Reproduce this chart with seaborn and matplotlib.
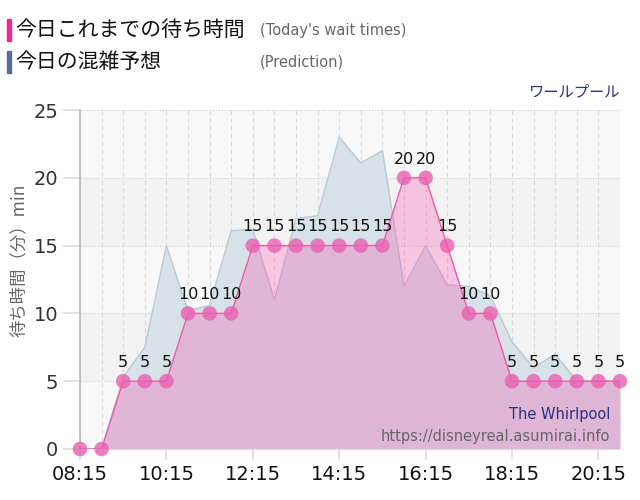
import numpy as np
import pandas as pd
import seaborn as sns
from matplotlib import pyplot as plt

times = ['08:15', '08:45', '09:15', '09:45', '10:15', '10:45', '11:15', '11:45',
         '12:15', '12:45', '13:15', '13:45', '14:15', '14:45', '15:15', '15:45',
         '16:15', '16:45', '17:15', '17:45', '18:15', '18:45', '19:15', '19:45',
         '20:15', '20:45']
actual = [0, 0, 5, 5, 5, 10, 10, 10, 15, 15, 15, 15, 15, 15, 15, 20,
          20, 15, 10, 10, 5, 5, 5, 5, 5, 5]
predicted = [0, 0, 5.3, 7.5, 15, 10.2, 10.6, 16.1, 16.2, 11, 17, 17.2, 23, 21.1,
             22, 12, 15, 12.1, 12, 11.3, 7.9, 6, 7, 5, 5, 5]
tick_labels = ['08:15', '10:15', '12:15', '14:15', '16:15', '18:15', '20:15']

df = pd.DataFrame({'time': times, 'actual': actual, 'predicted': predicted})
df['pos'] = np.arange(len(df))

sns.set_theme(style='white')
plt.rcParams['font.family'] = ['DejaVu Sans', 'Noto Sans CJK JP']
jp = ['Noto Sans CJK JP', 'DejaVu Sans']

fig = plt.figure(figsize=(6.4, 5), dpi=100)
ax = fig.add_axes([0.125, 0.102, 0.84375, 0.678])

# background bands
for i, lo in enumerate(range(0, 25, 5)):
    ax.axhspan(lo, lo + 5, color='#f8f8f8' if i % 2 == 0 else '#f2f2f2', zorder=0, lw=0)

# grid
for p in df['pos']:
    ax.axvline(p, color='#d9d9d9', lw=0.8, ls=(0, (4, 3)), zorder=1)
for y in range(5, 26, 5):
    ax.axhline(y, color='#cfcfcf', lw=0.8, ls=':', zorder=1)

# prediction area
ax.fill_between(df['pos'], df['predicted'], color='#d6e1e8', zorder=2, lw=0)
sns.lineplot(data=df, x='pos', y='predicted', ax=ax, color='#b9c8d3', lw=1, zorder=3)

# actual area
ax.fill_between(df['pos'], df['actual'], color='#fa54b1', alpha=0.3, zorder=4, lw=0)
sns.lineplot(data=df, x='pos', y='actual', ax=ax, color='#ee5aa8', lw=1, zorder=5)
sns.scatterplot(data=df, x='pos', y='actual', ax=ax, color='#e860b0', alpha=0.8,
                s=110, edgecolor='none', zorder=6, clip_on=False)

for p, v in zip(df['pos'], df['actual']):
    if v > 0:
        ax.annotate(str(v), (p, v), xytext=(0, 8), textcoords='offset points',
                    ha='center', va='bottom', fontsize=11.5, color='#111111', zorder=7)

ax.set_xlim(0, len(times) - 1)
ax.set_ylim(0, 25)
ax.set_yticks(range(0, 26, 5))
ax.set_xticks(range(0, len(times), 4))
ax.set_xticklabels(tick_labels)
ax.tick_params(axis='y', labelsize=14, labelcolor='#333333', length=12, color='#dddddd', left=True)
ax.tick_params(axis='x', labelsize=14, labelcolor='#111111', length=8, color='#dddddd', bottom=True)
ax.set_xlabel('')
ax.set_ylabel('待ち時間（分）min', fontsize=12.5, color='#666666', family=jp)
ax.yaxis.set_label_coords(-0.097, 0.557)
for s in ['top', 'right', 'bottom']:
    ax.spines[s].set_visible(False)
ax.spines['left'].set_color('#bbbbbb')

# header legend
fig.patches.append(plt.Rectangle((7 / 640, 1 - 41 / 500), 4 / 640, 22 / 500,
                                 transform=fig.transFigure, color='#f0288c'))
fig.patches.append(plt.Rectangle((7 / 640, 1 - 73 / 500), 4 / 640, 22 / 500,
                                 transform=fig.transFigure, color='#5b6b9c'))
fig.text(15 / 640, 1 - 30 / 500, '今日これまでの待ち時間', fontsize=15, family=jp,
         color='#111111', va='center')
fig.text(15 / 640, 1 - 62 / 500, '今日の混雑予想', fontsize=15, family=jp,
         color='#111111', va='center')
fig.text(260 / 640, 1 - 31 / 500, "(Today's wait times)", fontsize=10.5, color='#666666', va='center')
fig.text(260 / 640, 1 - 62 / 500, '(Prediction)', fontsize=10.5, color='#666666', va='center')
fig.text(620 / 640, 1 - 92 / 500, 'ワールプール', fontsize=11, family=jp,
         color='#2b2f7f', ha='right', va='center')
fig.text(610 / 640, 1 - 415 / 500, 'The Whirlpool', fontsize=10.5, color='#2b2f7f',
         ha='right', va='center')
fig.text(610 / 640, 1 - 436 / 500, 'https://disneyreal.asumirai.info', fontsize=10.5,
         color='#666666', ha='right', va='center')

fig.savefig('out.png', dpi=100)
